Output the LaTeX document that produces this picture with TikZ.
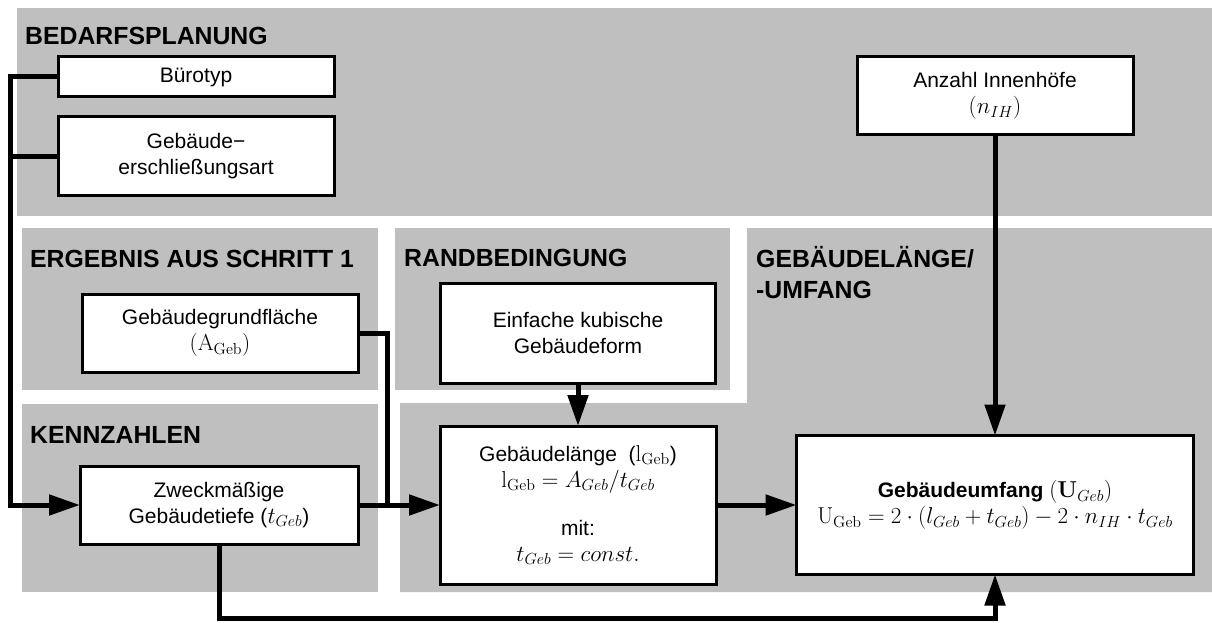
\RequirePackage{fix-cm}
\documentclass[tikz,border=0pt]{standalone}
\usepackage[no-math]{fontspec}
\setmainfont{Liberation Sans}
\DeclareMathSizes{21}{23}{16}{12}
\usetikzlibrary{arrows.meta}
\definecolor{bggray}{RGB}{191,191,191}
\begin{document}
\begin{tikzpicture}[x=1pt,y=-1pt,
  region/.style={fill=bggray, draw=none},
  box/.style={draw, line width=3pt, fill=white, inner sep=0pt, outer sep=0pt, align=center,
              font=\fontsize{21}{26}\selectfont},
  head/.style={anchor=base west, inner sep=0pt, align=left,
               font=\fontsize{24.8}{31}\selectfont\bfseries},
  conn/.style={line width=5pt},
  arr/.style={conn, -{Triangle[length=31pt,width=20pt]}}]
\useasboundingbox (0,0) rectangle (1212,623);
% background regions
\fill[region] (17,8) rectangle (1212,216);
\fill[region] (22,228) rectangle (378,390);
\fill[region] (22,404) rectangle (378,592);
\fill[region] (395,228) rectangle (730,390);
\fill[region] (747,228) -- (1212,228) -- (1212,592) -- (400,592) -- (400,403) -- (747,403) -- cycle;
% headers
\node[head] (hBedarf) at (25,45) {BEDARFSPLANUNG};
\node[head] (hErg) at (30,267) {ERGEBNIS AUS SCHRITT 1};
\node[head] (hKenn) at (30,443) {KENNZAHLEN};
\node[head] (hRand) at (404,266) {RANDBEDINGUNG};
\node[head] (hLaenge) at (756,298) {GEBÄUDELÄNGE/\\-UMFANG};
% boxes
\node[box, minimum width=276pt, minimum height=40pt] (buero) at (196,77) {Bürotyp};
\node[box, minimum width=276pt, minimum height=78pt] (erschl) at (196,156) {Gebäude−\\erschließungsart};
\node[box, minimum width=276pt, minimum height=78pt] (grund) at (220,333) {Gebäudegrundfläche\\$(\mathrm{A_{Geb}})$};
\node[box, minimum width=278pt, minimum height=78pt] (zweck) at (219,505) {Zweckmäßige\\Gebäudetiefe ($t_{Geb}$)};
\node[box, minimum width=275pt, minimum height=100pt] (kubisch) at (578,333) {Einfache kubische\\Gebäudeform};
\node[box, minimum width=276pt, minimum height=158pt] (laenge) at (578,505)
  {Gebäudelänge~ ($\mathrm{l_{Geb}}$)\\ $\mathrm{l_{Geb}} = A_{Geb}/t_{Geb}$\\[22pt] mit:\\ $t_{Geb} = const.$};
\node[box, minimum width=397pt, minimum height=139pt] (umfang) at (995,505)
  {\textbf{Gebäudeumfang} $(\mathbf{U}_{Geb})$\\ $\mathrm{U_{Geb}} = 2\cdot(l_{Geb}+t_{Geb}) - 2\cdot n_{IH}\cdot t_{Geb}$};
\node[box, minimum width=276pt, minimum height=78pt] (anzahl) at (995,96) {Anzahl Innenhöfe\\$(n_{IH})$};
% helper coordinates
\coordinate (bus) at (10,0);
\coordinate (jn) at (387,0);
\coordinate (low) at (0,618);
% connectors
\draw[arr] (buero.west) -- (buero.west -| bus) |- (zweck.west);
\draw[conn] (erschl.west) -- (erschl.west -| bus);
\draw[conn] (grund.east) -| (jn |- zweck.east);
\draw[arr] (zweck.east) -- (laenge.west);
\draw[arr] (kubisch.south) -- (laenge.north);
\draw[arr] (laenge.east) -- (umfang.west);
\draw[arr] (anzahl.south) -- (umfang.north);
\draw[arr] (zweck.south) -- (zweck.south |- low) -| (umfang.south);
\end{tikzpicture}
\end{document}
